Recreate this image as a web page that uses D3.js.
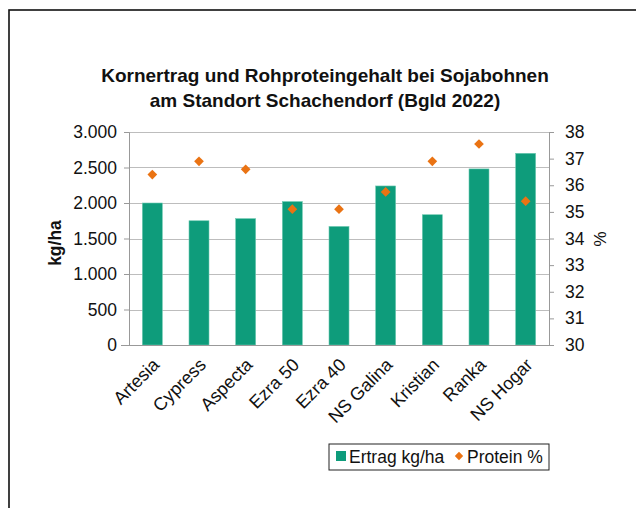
<!DOCTYPE html>
<html>
<head>
<meta charset="utf-8">
<script src="https://cdn.jsdelivr.net/npm/d3@7"></script>
<style>
  body { margin: 0; background: #fff; }
  svg text { font-family: "Liberation Sans", Arial, sans-serif; fill: #111; }
</style>
</head>
<body>
<div id="chart"></div>
<script>
// data
var sorten = ["Artesia", "Cypress", "Aspecta", "Ezra 50", "Ezra 40", "NS Galina", "Kristian", "Ranka", "NS Hogar"];
var ertrag = [2000, 1750, 1780, 2020, 1670, 2240, 1835, 2480, 2700];
var protein = [36.4, 36.9, 36.6, 35.1, 35.1, 35.75, 36.9, 37.55, 35.4];
var leftTicks = [0, 500, 1000, 1500, 2000, 2500, 3000];
var rightTicks = [30, 31, 32, 33, 34, 35, 36, 37, 38];

var svgWidth = 636;
var svgHeight = 508;
var margin = { top: 132, right: 87, bottom: 163, left: 129 };
var width = svgWidth - margin.left - margin.right;
var height = svgHeight - margin.top - margin.bottom;

var svg = d3.select("#chart")
  .append("svg")
  .attr("width", svgWidth)
  .attr("height", svgHeight);

// outer frame (runs off the page right and bottom)
svg.append("rect")
  .attr("x", 9)
  .attr("y", 10)
  .attr("width", 700)
  .attr("height", 600)
  .attr("fill", "none")
  .attr("stroke", "#111")
  .attr("stroke-width", 1.6);

svg.append("text")
  .attr("x", 325)
  .attr("y", 82)
  .attr("text-anchor", "middle")
  .attr("font-size", 19)
  .attr("font-weight", "bold")
  .text("Kornertrag und Rohproteingehalt bei Sojabohnen");
svg.append("text")
  .attr("x", 325)
  .attr("y", 107)
  .attr("text-anchor", "middle")
  .attr("font-size", 19)
  .attr("font-weight", "bold")
  .text("am Standort Schachendorf (Bgld 2022)");

var chartGroup = svg.append("g")
  .attr("transform", `translate(${margin.left}, ${margin.top})`);

var x = d3.scaleBand()
  .domain(sorten)
  .range([0, width]);

var yLeft = d3.scaleLinear()
  .domain([0, 3000])
  .range([height, 0]);

var yRight = d3.scaleLinear()
  .domain([30, 38])
  .range([height, 0]);

var fmt = d3.formatLocale({ decimal: ",", thousands: ".", grouping: [3], currency: ["", "€"] }).format(",.0f");

// gridlines
chartGroup.append("g")
  .selectAll("line")
  .data(leftTicks.slice(1))
  .enter()
  .append("line")
  .attr("x1", 0)
  .attr("x2", width)
  .attr("y1", d => Math.round(yLeft(d)) + 0.5)
  .attr("y2", d => Math.round(yLeft(d)) + 0.5)
  .attr("stroke", "#bdbdbd")
  .attr("stroke-width", 1);

var leftAxis = chartGroup.append("g")
  .call(d3.axisLeft(yLeft).tickValues(leftTicks).tickFormat(fmt).tickSizeOuter(0).tickSize(5).tickPadding(7));

var rightAxis = chartGroup.append("g")
  .attr("transform", `translate(${width}, 0)`)
  .call(d3.axisRight(yRight).tickValues(rightTicks).tickSizeOuter(0).tickSize(5).tickPadding(11));

[leftAxis, rightAxis].forEach(function(a) {
  a.select(".domain").attr("stroke", "#999");
  a.selectAll(".tick line").attr("stroke", "#999");
  a.selectAll("text").attr("font-size", 17.5).attr("fill", "#111")
    .style("font-family", "Liberation Sans, Arial, sans-serif");
});

// bars
chartGroup.selectAll(".bar")
  .data(ertrag)
  .enter()
  .append("rect")
  .attr("class", "bar")
  .attr("x", (d, i) => x(sorten[i]) + x.bandwidth() / 2 - 10)
  .attr("width", 20)
  .attr("y", d => yLeft(d))
  .attr("height", d => height - yLeft(d))
  .attr("fill", "#0e9c7b")
  .attr("stroke", "#6fcab2")
  .attr("stroke-width", 0.6);

// x axis line
chartGroup.append("line")
  .attr("x1", -8)
  .attr("x2", width)
  .attr("y1", height + 0.5)
  .attr("y2", height + 0.5)
  .attr("stroke", "#999");

// protein points
var diamond = d3.symbol().type(d3.symbolDiamond2).size(60);
chartGroup.selectAll(".pt")
  .data(protein)
  .enter()
  .append("path")
  .attr("class", "pt")
  .attr("d", diamond)
  .attr("transform", (d, i) => `translate(${x(sorten[i]) + x.bandwidth() / 2}, ${yRight(d)})`)
  .attr("fill", "#ea7313");

// category labels
chartGroup.selectAll(".cat")
  .data(sorten)
  .enter()
  .append("text")
  .attr("class", "cat")
  .attr("text-anchor", "end")
  .attr("font-size", 18)
  .attr("transform", d => `translate(${x(d) + x.bandwidth() / 2 + 8}, ${height + 21}) rotate(-45)`)
  .text(d => d);

// axis titles
svg.append("text")
  .attr("transform", "translate(61, 243) rotate(-90)")
  .attr("text-anchor", "middle")
  .attr("font-size", 17.5)
  .attr("font-weight", "bold")
  .text("kg/ha");

svg.append("text")
  .attr("transform", "translate(594, 239) rotate(90)")
  .attr("text-anchor", "middle")
  .attr("font-size", 17)
  .text("%");

// legend
var legend = svg.append("g").attr("transform", "translate(329, 444)");
legend.append("rect")
  .attr("width", 220)
  .attr("height", 26)
  .attr("fill", "#fff")
  .attr("stroke", "#222")
  .attr("stroke-width", 1);
legend.append("rect")
  .attr("x", 7)
  .attr("y", 7)
  .attr("width", 10)
  .attr("height", 10)
  .attr("fill", "#0e9c7b");
legend.append("text")
  .attr("x", 20)
  .attr("y", 19)
  .attr("font-size", 17.5)
  .text("Ertrag kg/ha");
legend.append("path")
  .attr("d", d3.symbol().type(d3.symbolDiamond2).size(45))
  .attr("transform", "translate(130, 12)")
  .attr("fill", "#ea7313");
legend.append("text")
  .attr("x", 138)
  .attr("y", 19)
  .attr("font-size", 17.5)
  .text("Protein %");
</script>
</body>
</html>
